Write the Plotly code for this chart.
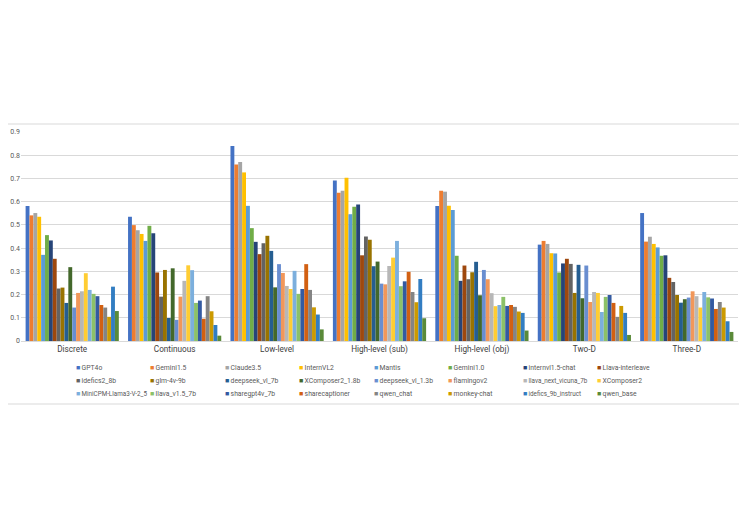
import plotly.graph_objects as go

categories = ["Discrete", "Continuous", "Low-level", "High-level (sub)",
              "High-level (obj)", "Two-D", "Three-D"]

GPT4o = [0.581, 0.535, 0.840, 0.691, 0.581, 0.415, 0.551]
Gemini1_5 = [0.541, 0.499, 0.760, 0.638, 0.647, 0.431, 0.428]
Claude3_5 = [0.551, 0.477, 0.771, 0.647, 0.643, 0.418, 0.449]
InternVL2 = [0.535, 0.461, 0.726, 0.703, 0.582, 0.378, 0.418]
Mantis = [0.371, 0.431, 0.582, 0.546, 0.564, 0.377, 0.403]
Gemini1_0 = [0.456, 0.496, 0.486, 0.578, 0.367, 0.295, 0.367]
internvl1_5_chat = [0.433, 0.464, 0.427, 0.588, 0.259, 0.334, 0.369]
Llava_interleave = [0.354, 0.295, 0.374, 0.369, 0.325, 0.354, 0.272]
idefics2_8b = [0.226, 0.191, 0.421, 0.450, 0.266, 0.332, 0.254]
glm_4v_9b = [0.230, 0.306, 0.453, 0.436, 0.296, 0.207, 0.198]
deepseek_vl_7b = [0.164, 0.099, 0.388, 0.322, 0.341, 0.328, 0.165]
XComposer2_1_8b = [0.318, 0.313, 0.231, 0.342, 0.197, 0.184, 0.180]
deepseek_vl_1_3b = [0.144, 0.091, 0.331, 0.247, 0.306, 0.325, 0.187]
flamingov2 = [0.207, 0.191, 0.293, 0.244, 0.266, 0.168, 0.214]
llava_next_vicuna_7b = [0.214, 0.259, 0.237, 0.323, 0.206, 0.211, 0.193]
XComposer2 = [0.292, 0.326, 0.224, 0.359, 0.150, 0.207, 0.144]
MiniCPM_Llama3_V_2_5 = [0.220, 0.305, 0.302, 0.431, 0.155, 0.125, 0.211]
llava_v1_5_7b = [0.203, 0.164, 0.203, 0.236, 0.190, 0.190, 0.188]
sharegpt4v_7b = [0.193, 0.174, 0.224, 0.257, 0.151, 0.198, 0.183]
sharecaptioner = [0.155, 0.096, 0.331, 0.298, 0.155, 0.164, 0.138]
qwen_chat = [0.144, 0.193, 0.220, 0.211, 0.147, 0.104, 0.168]
monkey_chat = [0.104, 0.128, 0.145, 0.167, 0.127, 0.151, 0.144]
idefics_9b_instruct = [0.234, 0.069, 0.114, 0.267, 0.121, 0.121, 0.085]
qwen_base = [0.129, 0.023, 0.050, 0.098, 0.045, 0.026, 0.039]

series_names = ["GPT4o", "Gemini1.5", "Claude3.5", "InternVL2", "Mantis", "Gemini1.0",
                "internvl1.5-chat", "Llava-interleave", "idefics2_8b", "glm-4v-9b",
                "deepseek_vl_7b", "XComposer2_1.8b", "deepseek_vl_1.3b", "flamingov2",
                "llava_next_vicuna_7b", "XComposer2", "MiniCPM-Llama3-V-2_5", "llava_v1.5_7b",
                "sharegpt4v_7b", "sharecaptioner", "qwen_chat", "monkey-chat",
                "idefics_9b_instruct", "qwen_base"]
series_values = [GPT4o, Gemini1_5, Claude3_5, InternVL2, Mantis, Gemini1_0,
                 internvl1_5_chat, Llava_interleave, idefics2_8b, glm_4v_9b,
                 deepseek_vl_7b, XComposer2_1_8b, deepseek_vl_1_3b, flamingov2,
                 llava_next_vicuna_7b, XComposer2, MiniCPM_Llama3_V_2_5, llava_v1_5_7b,
                 sharegpt4v_7b, sharecaptioner, qwen_chat, monkey_chat,
                 idefics_9b_instruct, qwen_base]
colors = ["#4472C4", "#ED7D31", "#A5A5A5", "#FFC000", "#5B9BD5", "#70AD47",
          "#264478", "#9E480E", "#636363", "#997300", "#255E91", "#43682B",
          "#698ED0", "#F1975A", "#B7B7B7", "#FFCD33", "#7CAFDD", "#8CC168",
          "#335AA1", "#D26012", "#848484", "#CC9A00", "#327DC2", "#5A8A39"]
y_ticks = [0, 0.1, 0.2, 0.3, 0.4, 0.5, 0.6, 0.7, 0.8, 0.9]

# page body margin offset (browser default)
OFF = 8
W, H = 747 - 2 * OFF, 528 - 2 * OFF
# plot area in screen pixels
PL, PR, PT, PB = 21, 738, 132, 341
ML, MT = PL - OFF, PT - OFF
MR, MB = W - (PR - OFF), H - (PB - OFF)
PW, PH = PR - PL, PB - PT


def px_x(p):
    return (p - PL) / PW


def px_y(p):
    return (PB - p) / PH


fig = go.Figure()
for name, vals, col in zip(series_names, series_values, colors):
    fig.add_trace(go.Bar(x=categories, y=vals, name=name, marker_color=col,
                         marker_line_width=0, showlegend=False))

# legend: 8 columns x 3 rows
legend_col_x0 = 74.5
legend_col_step = 74.5
legend_row_y = [368, 381, 394]
annotations = []
for i, (name, col) in enumerate(zip(series_names, colors)):
    r, c = divmod(i, 8)
    fsize = 6.8 if len(name) <= 16 else 6.3
    annotations.append(dict(
        xref="paper", yref="paper",
        x=px_x(legend_col_x0 + c * legend_col_step), y=px_y(legend_row_y[r]),
        xanchor="left", yanchor="middle", showarrow=False, borderpad=0,
        text=f'<span style="color:{col};font-size:7px">■</span>\u2009{name}',
        font=dict(family="Roboto", size=fsize, color="#595959")))

fig.update_layout(
    width=W, height=H,
    margin=dict(l=ML, r=MR, t=MT, b=MB),
    paper_bgcolor="white", plot_bgcolor="white",
    barmode="group", bargap=0.09, bargroupgap=0,
    font=dict(family="Roboto", color="#595959"),
    showlegend=False,
    xaxis=dict(showgrid=False, showline=True, linecolor="#D9D9D9", linewidth=1,
               ticks="", tickfont=dict(family="Roboto", size=8.2, color="#404040"),
               fixedrange=True),
    yaxis=dict(range=[0, 0.9], tickvals=y_ticks, ticktext=[f"{v:g}" for v in y_ticks],
               showgrid=True, gridcolor="#D9D9D9", gridwidth=1, zeroline=False,
               showline=False, ticks="", tickfont=dict(family="Roboto", size=7, color="#595959"),
               fixedrange=True),
    annotations=annotations,
    shapes=[dict(type="rect", xref="paper", yref="paper",
                 x0=px_x(3), x1=px_x(744), y0=px_y(404), y1=px_y(124),
                 line=dict(color="#D9D9D9", width=1), fillcolor="rgba(0,0,0,0)",
                 layer="below")],
)

fig.write_html("out.html")
